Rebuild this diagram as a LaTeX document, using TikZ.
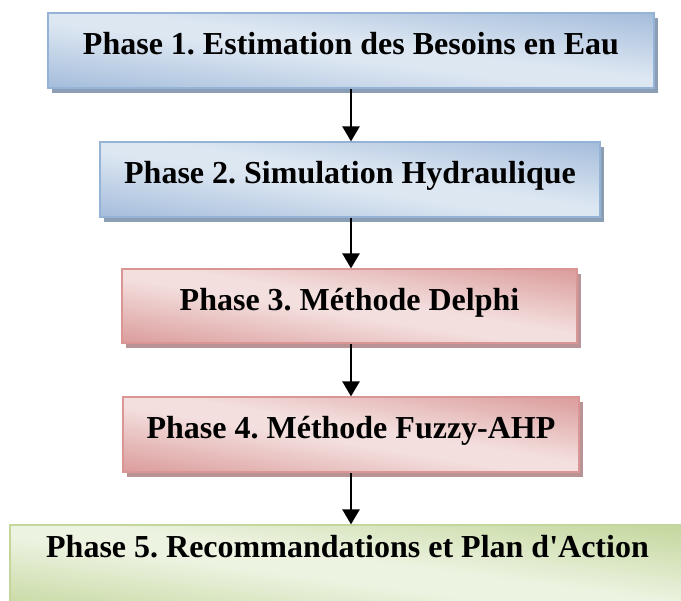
\documentclass[tikz,border=0pt]{standalone}
\usepackage{fontspec}
\newfontfamily\tnr{Liberation Serif}
\usetikzlibrary{arrows.meta,shadows}
\definecolor{bluB}{HTML}{95B3D7}
\definecolor{bluL}{HTML}{DDE7F2}
\definecolor{bluD}{HTML}{A3BCDB}
\definecolor{bluS}{HTML}{8C9EB4}
\definecolor{redB}{HTML}{D99694}
\definecolor{redL}{HTML}{F3DFDE}
\definecolor{redD}{HTML}{DA9B9A}
\definecolor{redS}{HTML}{B99395}
\definecolor{grnB}{HTML}{C3D69B}
\definecolor{grnL}{HTML}{EDF3E1}
\definecolor{grnD}{HTML}{C2D69B}
\pgfdeclareverticalshading{bshade}{100bp}{color(0bp)=(bluD); color(44bp)=(bluL); color(56bp)=(bluL); color(100bp)=(bluD)}
\pgfdeclareverticalshading{rshade}{100bp}{color(0bp)=(redD); color(44bp)=(redL); color(56bp)=(redL); color(100bp)=(redD)}
\pgfdeclareverticalshading{gshade}{100bp}{color(0bp)=(grnD); color(44bp)=(grnL); color(56bp)=(grnL); color(100bp)=(grnD)}
\tikzset{
  diagshade/.style={path picture={%
    \begin{pgfscope}%
    \pgfpointanchor{path picture bounding box}{north east}\pgfgetlastxy\nex\ney
    \pgfpointanchor{path picture bounding box}{south west}\pgfgetlastxy\swx\swy
    \pgfmathsetmacro\mysx{(\nex-\swx)/70}%
    \pgfmathsetmacro\mysy{(\ney-\swy)/70}%
    \pgftransformshift{\pgfpoint{(\nex+\swx)/2}{(\ney+\swy)/2}}%
    \pgftransformxscale{\mysx}\pgftransformyscale{\mysy}%
    \pgftransformrotate{-45}%
    \pgflowlevelsynccm
    \pgftext{\pgfuseshading{#1}}%
    \end{pgfscope}}},
  phasebox/.style={rectangle, inner sep=0pt, line width=1.2pt,
    font=\tnr\fontsize{32}{38}\selectfont\bfseries\frenchspacing,
    text height=15pt, text depth=6pt},
  bluebox/.style={phasebox, draw=bluB, diagshade=bshade,
    general shadow={fill=bluS, shadow xshift=4pt, shadow yshift=-5pt}},
  redbox/.style={phasebox, draw=redB, diagshade=rshade,
    general shadow={fill=redS, shadow xshift=4pt, shadow yshift=-5pt}},
  greenbox/.style={phasebox, draw=grnB, diagshade=gshade},
  flow/.style={-{Triangle[width=17pt,length=15pt]}, line width=2.4pt, black}
}
\begin{document}
\begin{tikzpicture}[x=1pt,y=-1pt]
\useasboundingbox (0,0) rectangle (681,601);
\clip (0,0) rectangle (681,601);
\node[bluebox, minimum width=606pt, minimum height=75pt] (b1) at (351,50.5)
  {Phase 1. Estimation des Besoins en Eau};
\node[bluebox, minimum width=500pt, minimum height=75pt] (b2) at (350,179.5)
  {Phase 2. Simulation Hydraulique};
\node[redbox, minimum width=455pt, minimum height=74pt] (b3) at (349.5,306)
  {Phase 3. Méthode Delphi};
\node[redbox, minimum width=456pt, minimum height=75pt] (b4) at (351,434.5)
  {Phase 4. Méthode Fuzzy-AHP};
\node[greenbox, minimum width=675pt, minimum height=90pt, text height=0pt, text depth=24pt] (b5) at (347.5,570)
  {Phase 5. Recommandations et Plan d'Action};
\coordinate (ax) at (351,0);
\draw[flow] (b1.south -| ax) -- (b2.north -| ax);
\draw[flow] (b2.south -| ax) -- (b3.north -| ax);
\draw[flow] (b3.south -| ax) -- (b4.north -| ax);
\draw[flow] (b4.south -| ax) -- (b5.north -| ax);
\end{tikzpicture}
\end{document}
